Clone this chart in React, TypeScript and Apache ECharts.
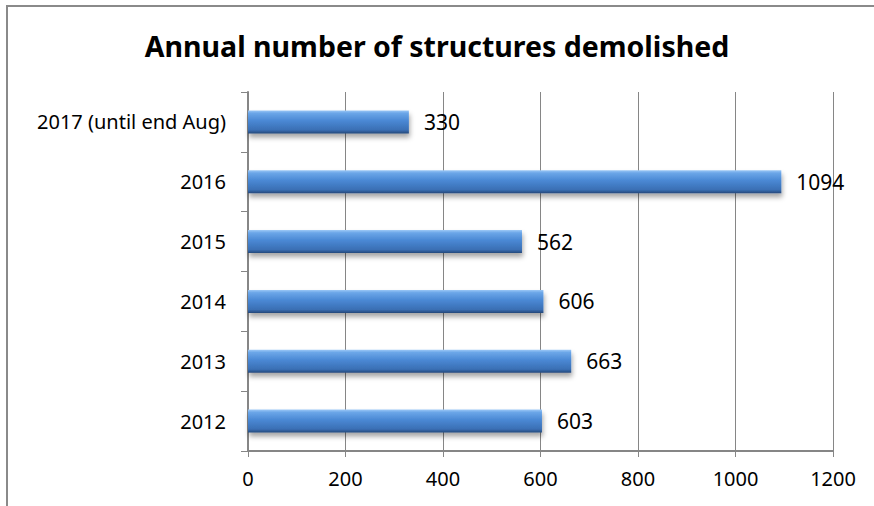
import React, { useEffect, useRef } from "react";
import * as echarts from "echarts";

const titleText = "Annual number of structures demolished";
const categories = ["2012", "2013", "2014", "2015", "2016", "2017 (until end Aug)"];
const values = [603, 663, 606, 562, 1094, 330];
const axisMin = 0;
const axisMax = 1200;
const axisStep = 200;

const FONT = "'Noto Sans', 'Open Sans', sans-serif";

export default function App() {
  const ref = useRef<HTMLDivElement>(null);
  useEffect(() => {
    if (!ref.current) return;
    const chart = echarts.init(ref.current, null, { renderer: "svg" });
    chart.setOption({
      animation: false,
      backgroundColor: "#ffffff",
      title: {
        text: titleText,
        left: "center",
        top: 26,
        textStyle: { fontFamily: FONT, fontSize: 28.5, fontWeight: "bold", color: "#000" },
      },
      grid: { left: 248, right: 41, top: 92, bottom: 55, containLabel: false },
      xAxis: {
        type: "value",
        min: axisMin,
        max: axisMax,
        interval: axisStep,
        axisLine: { show: true, lineStyle: { color: "#868686", width: 2 } },
        axisTick: { show: true, length: 6, lineStyle: { color: "#868686", width: 1 } },
        splitLine: { show: true, lineStyle: { color: "#868686", width: 1 } },
        axisLabel: {
          fontFamily: FONT,
          fontSize: 20,
          color: "#000",
          margin: 17,
          formatter: (v: number) => String(v),
        },
      },
      yAxis: {
        type: "category",
        data: categories,
        axisLine: { show: true, lineStyle: { color: "#868686", width: 2 } },
        axisTick: { show: true, length: 7, lineStyle: { color: "#868686", width: 1 } },
        axisLabel: { fontFamily: FONT, fontSize: 20, color: "#000", margin: 22 },
      },
      graphic: [
        { type: "line", shape: { x1: 7, y1: 6, x2: 7, y2: 506 }, style: { stroke: "#8a8a8a", lineWidth: 2 } },
        { type: "line", shape: { x1: 6, y1: 6, x2: 874, y2: 6 }, style: { stroke: "#8a8a8a", lineWidth: 2 } },
      ],
      series: [
        {
          type: "bar",
          data: values,
          barWidth: 23,
          itemStyle: {
            color: new echarts.graphic.LinearGradient(0, 0, 0, 1, [
              { offset: 0, color: "#9cc8f6" },
              { offset: 0.12, color: "#6ba6e8" },
              { offset: 0.45, color: "#4a88d4" },
              { offset: 0.85, color: "#3a6fb4" },
              { offset: 1, color: "#24487a" },
            ]),
            shadowColor: "rgba(0,0,0,0.35)",
            shadowBlur: 5,
            shadowOffsetY: 4,
            shadowOffsetX: 1,
          },
          label: {
            show: true,
            position: "right",
            distance: 15,
            fontFamily: FONT,
            fontSize: 21,
            color: "#000",
          },
        },
      ],
    });
    return () => chart.dispose();
  }, []);
  return <div ref={ref} style={{ width: 874, height: 506, position: "absolute", left: 0, top: 0 }} />;
}
